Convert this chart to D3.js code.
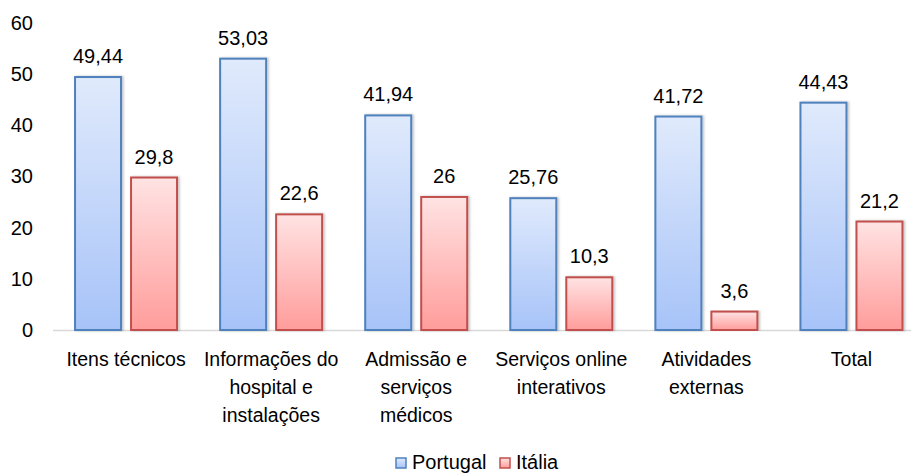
<!DOCTYPE html>
<html>
<head>
<meta charset="utf-8">
<script src="https://cdn.jsdelivr.net/npm/d3@7"></script>
<style>
  body{margin:0;background:#fff;}
  svg{display:block;font-family:"Liberation Sans",Arial,sans-serif;}
</style>
</head>
<body>
<div id="chart"></div>
<script>
const categories=["Itens técnicos","Informações do hospital e instalações","Admissão e serviços médicos","Serviços online interativos","Atividades externas","Total"]
const portugal=[49.44,53.03,41.94,25.76,41.72,44.43]
const italia=[29.8,22.6,26,10.3,3.6,21.2]
const seriesNames=["Portugal","Itália"]
const yTicks=[0,10,20,30,40,50,60]

let width=911, height=475

let svg=d3.select("#chart").append("svg")
.attr("width",width)
.attr("height",height)

// gradients
let defs=svg.append("defs")
const grads=[["gPt","#e0eafc","#a7c3f8"],["gIt","#ffe3e3","#ff9d9b"]]
grads.forEach(g=>{
  let lg=defs.append("linearGradient").attr("id",g[0]).attr("x1",0).attr("y1",0).attr("x2",0).attr("y2",1)
  lg.append("stop").attr("offset","0%").attr("stop-color",g[1])
  lg.append("stop").attr("offset","100%").attr("stop-color",g[2])
})
let f=defs.append("filter").attr("id","shadow").attr("x","-20%").attr("y","-5%").attr("width","140%").attr("height","110%")
f.append("feDropShadow").attr("dx",1.5).attr("dy",0).attr("stdDeviation",1.2).attr("flood-color","#000").attr("flood-opacity",0.25)

// scales
let x=d3.scaleBand().domain(categories).range([53.5,924]).paddingInner(0).paddingOuter(0)
let y=d3.scaleLinear().domain([0,60]).range([330,23])
let barW=46, gap=10

// y axis labels
let yAxis=d3.axisLeft(y).tickValues(yTicks).tickSize(0).tickPadding(0)
let ya=svg.append("g").attr("transform","translate(33,0)").call(yAxis)
ya.select(".domain").remove()
ya.selectAll("text").attr("font-size","20px").attr("fill","#000").attr("font-family","Liberation Sans, Arial, sans-serif")

// baseline
svg.append("line").attr("x1",53).attr("x2",911).attr("y1",y(0)+0.5).attr("y2",y(0)+0.5)
.attr("stroke","#d9d9d9").attr("stroke-width",1.5)

const series=[
  {name:seriesNames[0],values:portugal,fill:"url(#gPt)",stroke:"#4f81bd",off:-(barW+gap)/2},
  {name:seriesNames[1],values:italia,fill:"url(#gIt)",stroke:"#c0504d",off:(barW+gap)/2}
]
const fmt=v=>String(v).replace(".",",")

series.forEach(s=>{
  let cx=(d,i)=>x(categories[i])+x.bandwidth()/2+s.off
  svg.append("g").selectAll("rect")
  .data(s.values)
  .enter().append("rect")
  .attr("x",(d,i)=>cx(d,i)-barW/2)
  .attr("y",d=>y(d))
  .attr("width",barW)
  .attr("height",d=>y(0)-y(d))
  .attr("fill",s.fill)
  .attr("stroke",s.stroke)
  .attr("stroke-width",2)
  .attr("filter","url(#shadow)")

  svg.append("g").selectAll("text")
  .data(s.values)
  .enter().append("text")
  .attr("x",(d,i)=>cx(d,i))
  .attr("y",d=>y(d)-14)
  .attr("text-anchor","middle")
  .attr("font-size","20px")
  .text(d=>fmt(d))
})

// category labels, wrapped
let cat=svg.append("g").selectAll("text")
.data(categories)
.enter().append("text")
.attr("x",d=>x(d)+x.bandwidth()/2)
.attr("y",366)
.attr("text-anchor","middle")
.attr("font-size","19.5px")

cat.each(function(d){
  let el=d3.select(this), words=d.split(" "), line=[], lines=[]
  let probe=el.append("tspan")
  words.forEach(w=>{
    line.push(w)
    probe.text(line.join(" "))
    if(probe.node().getComputedTextLength()>140 && line.length>1){
      line.pop(); lines.push(line.join(" ")); line=[w]
    }
  })
  lines.push(line.join(" "))
  probe.remove()
  lines.forEach((l,i)=>{
    el.append("tspan").attr("x",x(d)+x.bandwidth()/2).attr("dy",i?28:0).text(l)
  })
})

// legend
let leg=svg.append("g").attr("transform","translate(396,458)")
let lx=[0,104]
series.forEach((s,i)=>{
  let g=leg.append("g").attr("transform",`translate(${lx[i]},0)`)
  g.append("rect").attr("width",10).attr("height",10).attr("fill",s.fill).attr("stroke",s.stroke).attr("stroke-width",1.5)
  g.append("text").attr("x",16).attr("y",11).attr("font-size","20px").text(s.name)
})
</script>
</body>
</html>
